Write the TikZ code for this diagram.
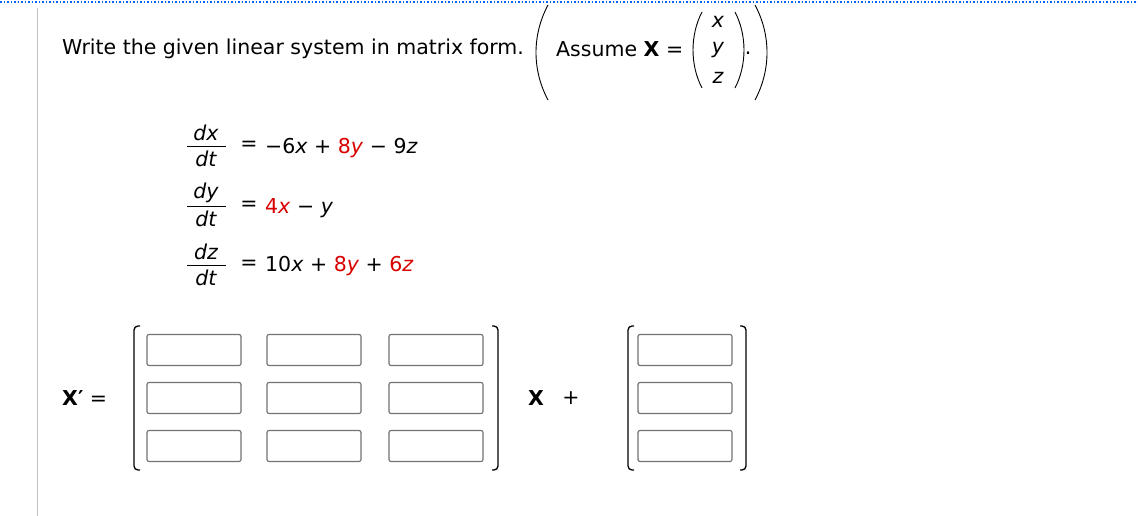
\documentclass[tikz,border=0pt]{standalone}
\usepackage{fontspec}
\setmainfont{DejaVu Sans}
\begin{document}
\begin{tikzpicture}[x=1pt,y=-1pt,
  txt/.style={inner sep=0pt,font=\fontsize{20.5}{23}\selectfont},
  ibox/.style={draw=black!55,line width=1.2pt,rounded corners=2pt,minimum width=94pt,minimum height=31pt,inner sep=0pt},
  brk/.style={line width=1.3pt,rounded corners=4pt}]
\useasboundingbox (0,0) rectangle (1138,516);
\fill[white] (0,0) rectangle (1138,516);
\draw[blue!60!cyan,dotted,line width=1.5pt] (0,2) -- (1138,2);
\draw[black!25,line width=1pt] (37,8) -- (37,516);
\node[txt,anchor=west] (title) at (62,49) {Write the given linear system in matrix form.};
% big parens
\draw[line width=0.9pt] (548,5) .. controls (532,35) and (532,70) .. (548,100);
\draw[line width=0.9pt] (755,5) .. controls (771,35) and (771,70) .. (755,100);
\node[txt,anchor=west] (assume) at (556,49) {Assume \textbf{X} =};
\draw[line width=0.9pt] (702,12) .. controls (690,35) and (690,65) .. (702,88);
\draw[line width=0.9pt] (735,12) .. controls (747,35) and (747,65) .. (735,88);
\node[txt] (vx) at (718,22) {\itshape x};
\node[txt] (vy) at (718,50) {\itshape y};
\node[txt] (vz) at (718,78) {\itshape z};
\node[txt] (dot) at (748,53) {.};
% equations
\foreach \n/\v/\y in {1/x/146,2/y/206,3/z/265}{
  \node[txt] (num\n) at (206,\y-13) {\itshape d\v};
  \node[txt] (den\n) at (206,\y+13) {\itshape dt};
  \draw[line width=0.8pt] (187,\y) -- (226,\y);
  \node[txt] (eq\n) at (249,\y) {=};
}
\node[txt,anchor=west] (r1) at (265,148) {−6\textit{x} + {\color{red!85!black}8\textit{y}} − 9\textit{z}};
\node[txt,anchor=west] (r2) at (265,208) {{\color{red!85!black}4\textit{x}} − \textit{y}};
\node[txt,anchor=west] (r3) at (265,266) {10\textit{x} + {\color{red!85!black}8\textit{y}} + {\color{red!85!black}6\textit{z}}};
% matrix
\node[txt,anchor=west] (xp) at (62,398) {\textbf{X′} =};
\draw[brk] (140,326) -- (134,326) -- (134,470) -- (140,470);
\draw[brk] (492,326) -- (498,326) -- (498,470) -- (492,470);
\foreach \c/\x in {1/194,2/314,3/436}{
  \foreach \r/\y in {1/350,2/398,3/446}{
    \node[ibox] (m\r\c) at (\x,\y) {};
  }
}
\node[txt] (xx) at (536,398) {\textbf{X}};
\node[txt] (plus) at (571,398) {+};
\draw[brk] (634,326) -- (628,326) -- (628,470) -- (634,470);
\draw[brk] (740,326) -- (746,326) -- (746,470) -- (740,470);
\foreach \r/\y in {1/350,2/398,3/446}{
  \node[ibox] (b\r) at (685,\y) {};
}
\end{tikzpicture}
\end{document}
